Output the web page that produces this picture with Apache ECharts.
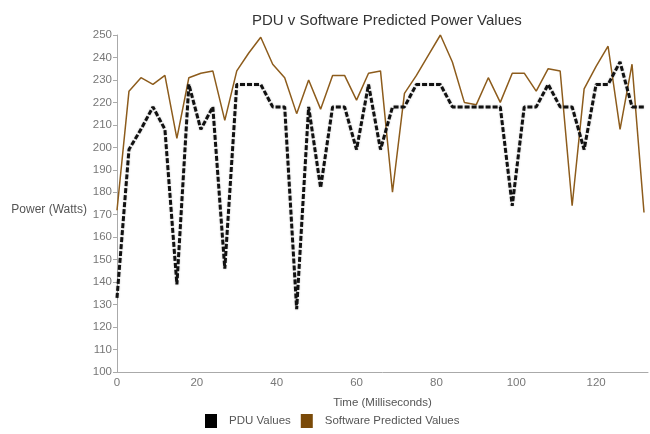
<!DOCTYPE html>
<html>
<head>
<meta charset="utf-8">
<script src="https://cdn.jsdelivr.net/npm/echarts@6/dist/echarts.min.js"></script>
<style>
  html, body { margin: 0; padding: 0; background: #fff; }
  #chart { width: 650px; height: 434px; }
</style>
</head>
<body>
<div id="chart"></div>
<script>
// time in ms
const times = [0, 3, 6, 9, 12, 15, 18, 21, 24, 27, 30, 33, 36, 39, 42, 45, 48, 51, 54, 57,
  60, 63, 66, 69, 72, 75, 78, 81, 84, 87, 90, 93, 96, 99, 102, 105, 108, 111, 114, 117,
  120, 123, 126, 129, 132];
const pduValues = [133, 199, 208, 218, 208, 139, 228, 208, 218, 146, 228, 228, 228, 218, 218,
  128, 218, 182, 218, 218, 199, 228, 199, 218, 218, 228, 228, 228, 218, 218,
  218, 218, 218, 174, 218, 218, 228, 218, 218, 199, 228, 228, 238, 218, 218];
const softwareValues = [172, 225, 231, 228, 232, 204, 231, 233, 234, 212, 234, 242, 249, 237, 231,
  215, 230, 217, 232, 232, 221, 233, 234, 180, 224, 232, 241, 250, 238, 220,
  219, 231, 220, 233, 233, 225, 235, 234, 174, 226, 236, 245, 208, 237, 171];
const seriesNames = ["PDU Values", "Software Predicted Values"];

(function () {
  const myChart = echarts.init(document.getElementById("chart"));
  const font = "Liberation Sans, Arial, sans-serif";
  const pair = (vals) => times.map((t, i) => [t, vals[i]]);

  const option = {
    animation: false,
    textStyle: { fontFamily: font },
    title: {
      text: "PDU v Software Predicted Power Values",
      left: 247,
      top: 8,
      textStyle: { fontSize: 15, fontWeight: "normal", color: "#333", fontFamily: font },
    },
    legend: {
      bottom: 1,
      left: 200,
      icon: "rect",
      itemWidth: 12,
      itemHeight: 14,
      itemGap: 10,
      textStyle: { fontSize: 11.5, color: "#555", padding: [0, 0, 0, 7] },
      data: seriesNames,
    },
    grid: { left: 117, right: 2, top: 35, bottom: 62 },
    xAxis: {
      type: "value",
      min: 0,
      max: 133,
      interval: 20,
      name: "Time (Milliseconds)",
      nameLocation: "middle",
      nameGap: 25,
      nameTextStyle: { fontSize: 11.5, color: "#555" },
      axisLine: { lineStyle: { color: "#aaa" } },
      axisTick: { show: false },
      axisLabel: { color: "#777", fontSize: 11.5, showMaxLabel: false, margin: 5 },
      splitLine: { show: false },
    },
    yAxis: {
      type: "value",
      min: 100,
      max: 250,
      interval: 10,
      name: "Power (Watts)",
      nameLocation: "middle",
      nameRotate: 0,
      nameGap: 23,
      nameTextStyle: { fontSize: 12, color: "#555", verticalAlign: "top" },
      axisLine: { show: true, lineStyle: { color: "#aaa" } },
      axisTick: { show: true, length: 4, lineStyle: { color: "#aaa" } },
      axisLabel: { color: "#777", fontSize: 11.5, margin: 5 },
      splitLine: { show: false },
    },
    series: [
      {
        name: seriesNames[0],
        type: "line",
        data: pair(pduValues),
        symbol: "none",
        color: "#000",
        lineStyle: {
          width: 3,
          type: [5, 2],
          color: "#111",
          shadowColor: "rgba(0,0,0,0.25)",
          shadowBlur: 2,
        },
        z: 3,
      },
      {
        name: seriesNames[1],
        type: "line",
        data: pair(softwareValues),
        symbol: "none",
        color: "#7a4a08",
        lineStyle: { width: 1.5, color: "#8d5c1c" },
        z: 2,
      },
    ],
  };

  myChart.setOption(option);
  window.addEventListener("resize", function () {
    myChart.resize();
  });
})();
</script>
</body>
</html>
